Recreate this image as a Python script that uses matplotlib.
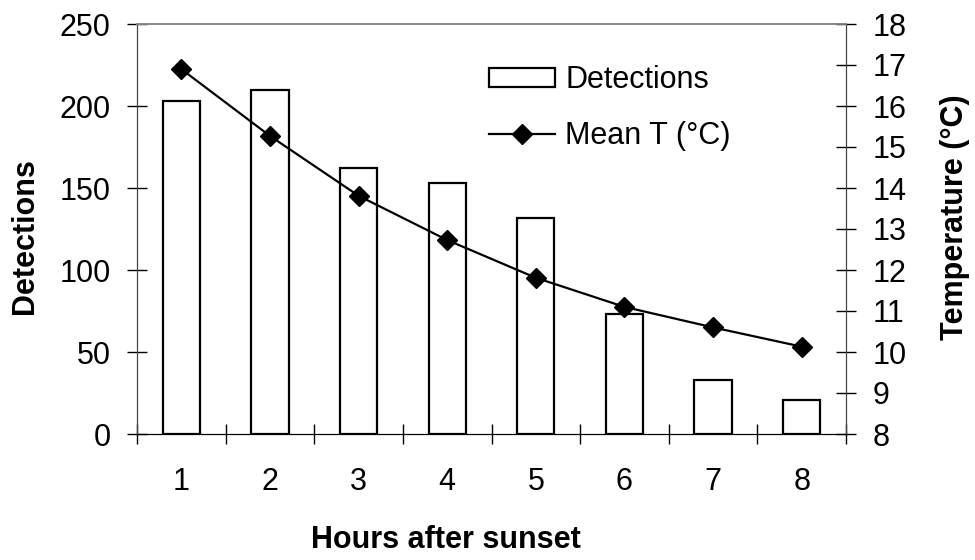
import matplotlib
matplotlib.use('Agg')
import matplotlib.pyplot as plt
import numpy as np

plt.rcParams['font.family'] = ['Liberation Sans', 'DejaVu Sans']

hours = [1, 2, 3, 4, 5, 6, 7, 8]
detections = [203, 210, 162, 153, 132, 73, 33, 21]
mean_temp = [16.9, 15.27, 13.81, 12.73, 11.81, 11.1, 10.6, 10.13]

fig = plt.figure(figsize=(9.75, 5.6), dpi=100)
ax = fig.add_axes([137/975, 126/560, 709/975, 410/560])
ax2 = ax.twinx()

x = np.array(hours)
bars = ax.bar(x, detections, width=0.42, color='white', edgecolor='black',
              lw=1.6, label='Detections', zorder=2)
line, = ax2.plot(x, mean_temp, color='black', lw=1.6, marker='D', ms=10,
                 label='Mean T (\u00b0C)', zorder=3)

ax.set_xlim(0.5, 8.5)
ax.set_ylim(0, 250)
ax2.set_ylim(8, 18)
ax.set_yticks(np.arange(0, 251, 50))
ax2.set_yticks(np.arange(8, 19, 1))

# category ticks on boundaries, labels centered
ax.set_xticks(np.arange(0.5, 8.6, 1))
ax.set_xticklabels([])
ax.set_xticks(x, minor=True)
ax.set_xticklabels([str(h) for h in hours], minor=True)
ax.tick_params(axis='x', which='minor', length=0, pad=24, labelsize=22)
ax.tick_params(axis='x', which='major', direction='inout', length=14, width=1)
ax.tick_params(axis='y', direction='inout', length=14, width=1, labelsize=22, pad=12)
ax2.tick_params(axis='y', direction='inout', length=14, width=1, labelsize=22, pad=12)

for a in (ax, ax2):
    a.spines['top'].set_color('#888888')
    a.spines['top'].set_linewidth(1.2)
    a.spines['left'].set_color('#444444')
    a.spines['right'].set_color('#444444')
    a.spines['bottom'].set_color('black')

ax.set_xlabel('Hours after sunset', fontsize=22, fontweight='bold', va='center')
ax.xaxis.set_label_coords(0.436, -0.2585)
ax.set_ylabel('Detections', fontsize=22, fontweight='bold', va='center')
ax.yaxis.set_label_coords(-0.158, 0.483)
ax2.set_ylabel('Temperature (\u00b0C)', fontsize=22, fontweight='bold', va='center')
ax2.yaxis.set_label_coords(1.154, 0.528)

ax.legend([bars, line], ['Detections', 'Mean T (\u00b0C)'], loc='upper left',
          bbox_to_anchor=(489/975, 1 - 65/560), bbox_transform=fig.transFigure,
          frameon=False, fontsize=22, borderpad=0, borderaxespad=0,
          handlelength=2.15, handleheight=0.6, handletextpad=0.35,
          labelspacing=0.85)

plt.savefig('out.png', dpi=100)
plt.close()
